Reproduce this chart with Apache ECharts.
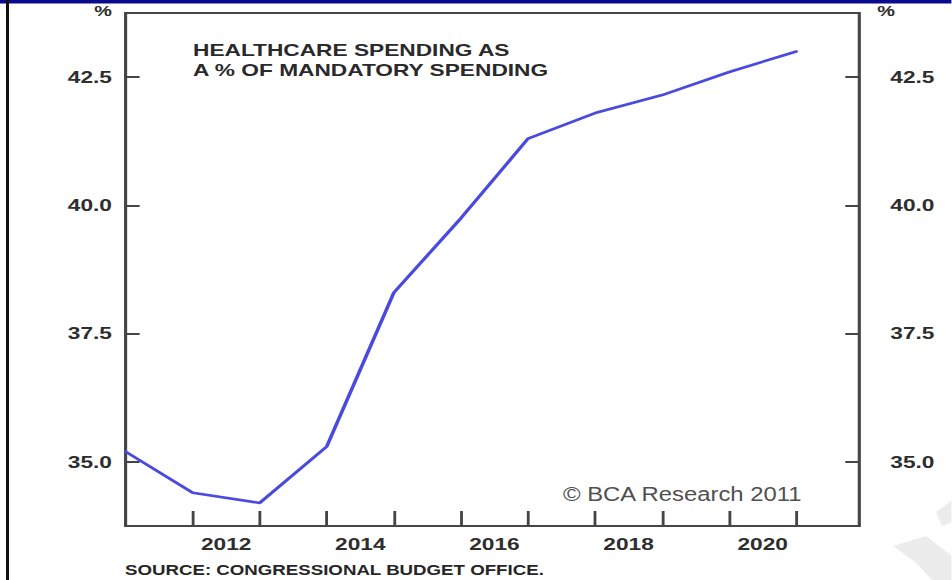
<!DOCTYPE html>
<html>
<head>
<meta charset="utf-8">
<script src="https://cdn.jsdelivr.net/npm/echarts@6/dist/echarts.min.js"></script>
<style>
  html, body { margin: 0; padding: 0; background: #fff; overflow: hidden; }
  #wrap { width: 952px; height: 580px; overflow: hidden; position: relative; background: #fff; }
  #chart { position: absolute; left: 0; top: 0; height: 580px; transform-origin: 0 0; }
</style>
</head>
<body>
<div id="wrap"><div id="chart"></div></div>
<script>
// Year boundaries at which each value is plotted
const years = [2011, 2012, 2013, 2014, 2015, 2016, 2017, 2018, 2019, 2020, 2021];
// Healthcare spending as a % of mandatory spending
const healthShare = [35.2, 34.4, 34.2, 35.3, 38.3, 39.75, 41.3, 41.8, 42.15, 42.6, 43.0];
// Tick marks on the year axis, and the years labelled (centred on their span)
const yearTicks = [2012, 2013, 2014, 2015, 2016, 2017, 2018, 2019, 2020, 2021];
const yearLabels = [2012, 2014, 2016, 2018, 2020];
// Percentage ticks shared by both vertical axes
const pctTicks = [35, 37.5, 40, 42.5];

// The figure is set in a wide, horizontally stretched face: lay it out
// narrower and stretch the whole drawing sideways.
const SX = 1.42;
const W = 952 / SX;
const u = v => v / SX;   // page pixels -> layout units (horizontal only)

const el = document.getElementById('chart');
el.style.width = W + 'px';
el.style.transform = 'scaleX(' + SX + ')';

const chart = echarts.init(el, null, { renderer: 'svg', width: W, height: 580 });

const FONT = '"Liberation Sans", Arial, Helvetica, sans-serif';
const INK = '#2e2e2e';
const AXIS = '#454545';

const valueAxisBase = {
  type: 'value',
  min: 33.75,
  max: 43.75,
  splitLine: { show: false },
  axisLine: { show: false },
  axisTick: {
    show: true, inside: true, length: u(14), customValues: pctTicks,
    lineStyle: { color: AXIS, width: 2 }
  },
  axisLabel: {
    customValues: pctTicks,
    formatter: v => Number(v).toFixed(1),
    fontFamily: FONT, fontWeight: 'bold', fontSize: 16, color: INK
  }
};

const option = {
  backgroundColor: '#ffffff',
  animation: false,
  grid: {
    left: u(125.6), right: u(92.7), top: 13, bottom: 54,
    show: true, borderColor: AXIS, borderWidth: 2.2, backgroundColor: 'transparent'
  },
  xAxis: {
    type: 'value',
    min: 2011,
    max: 2021.94,
    splitLine: { show: false },
    axisLine: { show: false },
    axisTick: {
      show: true, inside: true, length: 15, customValues: yearTicks,
      lineStyle: { color: AXIS, width: 2 }
    },
    axisLabel: {
      customValues: yearLabels.map(y => y + 0.5),
      formatter: v => String(Math.floor(v)),
      margin: 10,
      fontFamily: FONT, fontWeight: 'bold', fontSize: 16, color: INK
    }
  },
  yAxis: [
    Object.assign({}, valueAxisBase, {
      position: 'left',
      axisLabel: Object.assign({}, valueAxisBase.axisLabel, { margin: u(13.6) })
    }),
    Object.assign({}, valueAxisBase, {
      position: 'right',
      axisLabel: Object.assign({}, valueAxisBase.axisLabel, { margin: u(31) })
    })
  ],
  series: [{
    type: 'line',
    name: 'Healthcare share',
    xAxisIndex: 0,
    yAxisIndex: 0,
    data: years.map((y, i) => [y, healthShare[i]]),
    symbol: 'none',
    smooth: false,
    lineStyle: { color: '#4a4ade', width: 2.6, join: 'round', cap: 'round' }
  }],
  graphic: [
    // frame: dark blue band along the top, black rule down the left
    { type: 'rect', shape: { x: 0, y: 0, width: W, height: 3.5 }, style: { fill: '#0a0a8c' }, silent: true },
    { type: 'rect', shape: { x: u(6), y: 0, width: u(3), height: 580 }, style: { fill: '#111111' }, silent: true },
    // faint logo strokes at the lower right
    { type: 'polygon', shape: { points: [[u(936), 512], [u(952), 500], [u(952), 522], [u(942), 526]] },
      style: { fill: '#ececec' }, silent: true },
    { type: 'polygon', shape: { points: [[u(893), 546], [u(926), 536], [u(952), 556], [u(952), 580], [u(932), 580], [u(915), 562]] },
      style: { fill: '#ececec' }, silent: true },
    // unit markers above each vertical axis
    { type: 'text', x: u(103), y: 11,
      style: { text: '%', font: 'bold 14px ' + FONT, fill: INK, textAlign: 'center', textVerticalAlign: 'middle' } },
    { type: 'text', x: u(886), y: 11,
      style: { text: '%', font: 'bold 14px ' + FONT, fill: INK, textAlign: 'center', textVerticalAlign: 'middle' } },
    // chart title
    { type: 'text', x: u(193), y: 50,
      style: { text: 'HEALTHCARE SPENDING AS', font: 'bold 16px ' + FONT, fill: '#2a2a2a', textAlign: 'left', textVerticalAlign: 'middle' } },
    { type: 'text', x: u(193), y: 70,
      style: { text: 'A % OF MANDATORY SPENDING', font: 'bold 16px ' + FONT, fill: '#2a2a2a', textAlign: 'left', textVerticalAlign: 'middle' } },
    // copyright
    { type: 'text', x: u(563), y: 494, scaleX: 0.8,
      style: { text: '\u00A9 BCA Research 2011', font: '21px ' + FONT, fill: '#505050', textAlign: 'left', textVerticalAlign: 'middle' } },
    // source line
    { type: 'text', x: u(125), y: 570, scaleX: 0.94,
      style: { text: 'SOURCE: CONGRESSIONAL BUDGET OFFICE.', font: 'bold 14px ' + FONT, fill: '#262626', textAlign: 'left', textVerticalAlign: 'middle' } }
  ]
};

chart.setOption(option);
</script>
</body>
</html>
